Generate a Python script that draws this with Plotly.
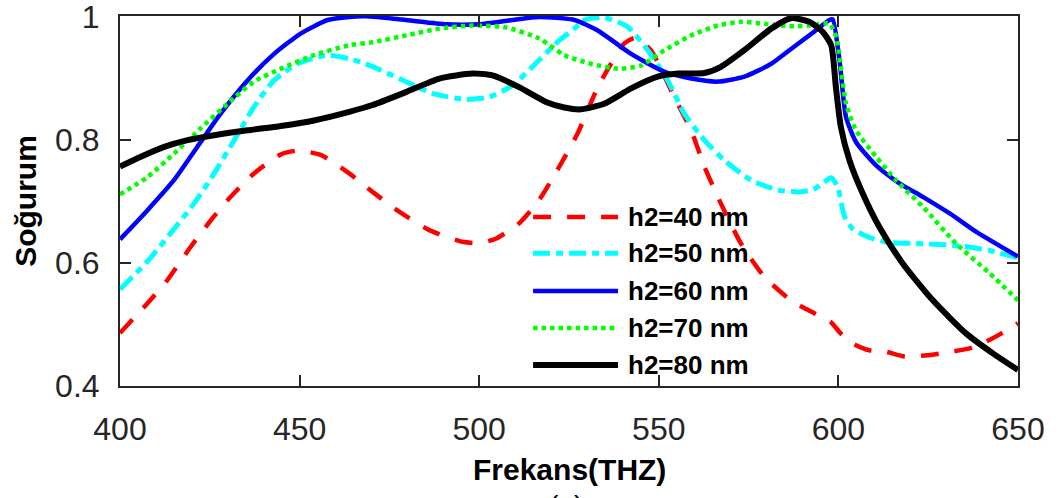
import plotly.graph_objects as go

# ---- data ----
x_40 = [400, 407.6, 413.2, 419.7, 425.3, 430.8, 437.3, 444.8, 449.4, 455.9, 463.8, 470.3, 477.7, 486.1,
        495.4, 500, 504.6, 511.1, 516.7, 522.3, 527.4, 533, 536.7, 540.4, 543.5, 547.8, 554.3, 559,
        562.7, 567.3, 572.9, 579.4, 586.8, 591, 596, 598, 600.7, 604, 608.6, 613, 618.4, 625, 631.8,
        636.5, 641.1, 645.3, 650]
y_40 = [0.486, 0.534, 0.572, 0.626, 0.669, 0.707, 0.745, 0.776, 0.782, 0.775, 0.745, 0.715, 0.683, 0.653,
        0.634, 0.632, 0.639, 0.664, 0.702, 0.756, 0.810, 0.885, 0.923, 0.956, 0.965, 0.945, 0.869, 0.815,
        0.756, 0.696, 0.631, 0.577, 0.539, 0.525, 0.510, 0.503, 0.485, 0.469, 0.458, 0.456, 0.448, 0.450,
        0.456, 0.461, 0.472, 0.485, 0.502]

x_50 = [400, 407.6, 414.1, 420.6, 426.2, 431.8, 437.3, 442.9, 449.4, 457.8, 463.8, 468.4, 477.7, 487,
        496.3, 502.8, 509.3, 516.7, 522.3, 526.5, 529.3, 534.8, 541.3, 546.9, 552.5, 557.1, 562.7, 568.3,
        575.7, 583.1, 589.2, 593, 595.6, 598, 599.8, 601.7, 604, 608.6, 614.2, 623.5, 632.8, 642.1, 650]
y_50 = [0.557, 0.602, 0.648, 0.696, 0.745, 0.799, 0.853, 0.896, 0.923, 0.937, 0.931, 0.923, 0.899, 0.875,
        0.865, 0.869, 0.888, 0.929, 0.961, 0.980, 0.994, 0.998, 0.983, 0.945, 0.896, 0.842, 0.799, 0.766,
        0.734, 0.718, 0.715, 0.719, 0.729, 0.738, 0.723, 0.675, 0.655, 0.641, 0.633, 0.631, 0.628, 0.620,
        0.608]

x_60 = [400, 407.6, 415, 421.5, 428, 435.5, 442.9, 450.3, 457.8, 463.8, 468.4, 479.6, 490.7, 500, 509.3,
        516.7, 526.5, 533, 542.3, 551.6, 559, 566.4, 573.8, 581.3, 586.35, 591.9, 597.5, 598.4, 600.3,
        602.1, 604.9, 610.5, 617, 623.5, 631, 638.4, 650]
y_60 = [0.638, 0.685, 0.734, 0.788, 0.842, 0.896, 0.939, 0.972, 0.994, 0.999, 1.0, 0.994, 0.987, 0.987,
        0.994, 0.999, 0.994, 0.977, 0.939, 0.910, 0.899, 0.894, 0.902, 0.923, 0.945, 0.969, 0.994, 0.995,
        0.929, 0.837, 0.796, 0.758, 0.729, 0.707, 0.680, 0.650, 0.610]

x_70 = [400, 407.6, 415, 422.4, 429.9, 437.3, 444.8, 454, 463.8, 470.3, 479.6, 488.9, 498.1, 507.4, 516.7,
        523.7, 531.1, 538.6, 545, 551.6, 559, 566.4, 572.9, 579.4, 586.35, 591.9, 597.5, 599.4, 602.1,
        604.9, 610.5, 616, 623.5, 632.8, 642.1, 650]
y_70 = [0.711, 0.739, 0.777, 0.818, 0.858, 0.894, 0.915, 0.937, 0.953, 0.958, 0.969, 0.980, 0.985, 0.982,
        0.964, 0.937, 0.923, 0.915, 0.920, 0.945, 0.969, 0.985, 0.991, 0.988, 0.984, 0.985, 0.988, 0.966,
        0.859, 0.815, 0.772, 0.734, 0.691, 0.631, 0.583, 0.539]

x_80 = [400, 405.8, 412.3, 418.8, 426.2, 435.5, 444.8, 454, 463.8, 470.3, 479.6, 488.9, 498.1, 503.7,
        511.1, 518.6, 523.7, 528.3, 534.8, 542.3, 549.7, 555.3, 562.7, 567.3, 573.8, 581.3, 586.8, 591.9,
        595.6, 598, 599.3, 600.7, 603.1, 606.8, 611.4, 617.9, 626.3, 635.6, 643, 650]
y_80 = [0.756, 0.772, 0.788, 0.799, 0.807, 0.815, 0.822, 0.831, 0.845, 0.856, 0.877, 0.899, 0.907, 0.904,
        0.885, 0.861, 0.852, 0.849, 0.858, 0.883, 0.902, 0.907, 0.908, 0.918, 0.945, 0.980, 0.997, 0.991,
        0.975, 0.953, 0.885, 0.820, 0.766, 0.712, 0.658, 0.599, 0.539, 0.485, 0.453, 0.426]

series_names = ["h2=40 nm", "h2=50 nm", "h2=60 nm", "h2=70 nm", "h2=80 nm"]
series_x = [x_40, x_50, x_60, x_70, x_80]
series_y = [y_40, y_50, y_60, y_70, y_80]
x_ticks = [400, 450, 500, 550, 600, 650]
y_ticks = [0.4, 0.6, 0.8, 1.0]
y_tick_text = ["0.4", "0.6", "0.8", "1"]

# ---- styles ----
colors = ["#ff0000", "#00ffff", "#0000ff", "#00ff00", "#000000"]
widths = [4.5, 5, 4.5, 4.5, 6]
dashes = ["18px,16px", "17px,6px,7px,6px", "solid", "4.5px,4px", "solid"]

FONT = "Liberation Sans, Arial, sans-serif"

fig = go.Figure()
for name, xs, ys, c, w, d in zip(series_names, series_x, series_y, colors, widths, dashes):
    fig.add_trace(go.Scatter(x=xs, y=ys, mode="lines", name=name,
                             line=dict(color=c, width=w, dash=d, shape="spline", smoothing=0.6),
                             showlegend=False))

# manual legend (MATLAB-like long line samples)
leg_y = [0.457, 0.359, 0.257, 0.157, 0.057]
shapes = []
annotations = []
for name, c, w, d, ly in zip(series_names, colors, widths, dashes, leg_y):
    shapes.append(dict(type="line", xref="paper", yref="paper", x0=0.460, x1=0.5546, y0=ly, y1=ly,
                       line=dict(color=c, width=w, dash=d)))
    annotations.append(dict(xref="paper", yref="paper", x=0.5635, y=ly, xanchor="left", yanchor="middle",
                            text=f"<b>{name}</b>", showarrow=False,
                            font=dict(family=FONT, size=26, color="#000000")))

annotations.append(dict(xref="paper", yref="paper", x=-0.106, y=0.5, xanchor="center", yanchor="middle",
                        text="<b>Soğurum</b>", textangle=-90, showarrow=False,
                        font=dict(family=FONT, size=30, color="#000000")))
annotations.append(dict(xref="paper", yref="paper", x=0.5, y=-0.227, xanchor="center", yanchor="middle",
                        text="<b>Frekans(THZ)</b>", showarrow=False,
                        font=dict(family=FONT, size=30, color="#000000")))
annotations.append(dict(xref="paper", yref="paper", x=0.497, y=-0.322, xanchor="center", yanchor="middle",
                        text="(a)", showarrow=False,
                        font=dict(family=FONT, size=28, color="#000000")))

axis_common = dict(showgrid=False, zeroline=False, showline=True, linecolor="#262626", linewidth=2,
                   mirror="ticks", ticks="inside", ticklen=11, tickwidth=2, tickcolor="#262626",
                   automargin=False, ticklabeloverflow="allow",
                   tickfont=dict(family=FONT, size=32, color="#262626"))

fig.update_layout(
    width=1058, height=498,
    margin=dict(l=120, r=40, t=16, b=112),
    paper_bgcolor="white", plot_bgcolor="white",
    shapes=shapes, annotations=annotations,
    xaxis=dict(range=[400, 650], tickvals=x_ticks, ticklabelstandoff=14, **axis_common),
    yaxis=dict(range=[0.4, 1.0005], tickvals=y_ticks, ticktext=y_tick_text, ticklabelstandoff=12,
               **axis_common),
)

fig.write_html("out.html", config={"displayModeBar": False},
               post_script="document.body.style.margin='0px';document.body.style.overflow='hidden';")
